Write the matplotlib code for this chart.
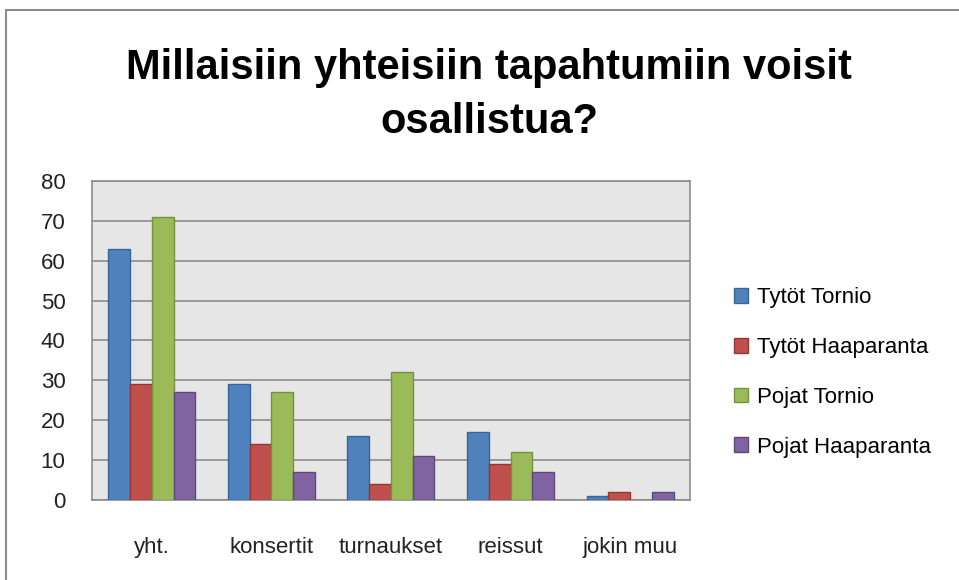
import numpy as np
import matplotlib.pyplot as plt
from matplotlib.patches import Rectangle

categories = ["yht.", "konsertit", "turnaukset", "reissut", "jokin muu"]
series_names = ["Tytöt Tornio", "Tytöt Haaparanta", "Pojat Tornio", "Pojat Haaparanta"]
tytot_tornio = [63, 29, 16, 17, 1]
tytot_haaparanta = [29, 14, 4, 9, 2]
pojat_tornio = [71, 27, 32, 12, 0]
pojat_haaparanta = [27, 7, 11, 7, 2]
yticks = [0, 10, 20, 30, 40, 50, 60, 70, 80]

values = [tytot_tornio, tytot_haaparanta, pojat_tornio, pojat_haaparanta]
colors = ["#4f81bd", "#c0504d", "#9bbb59", "#8064a2"]
edges = ["#3a6396", "#943634", "#76923c", "#5f497a"]

plt.rcParams['font.family'] = ['Liberation Sans', 'DejaVu Sans']

fig = plt.figure(figsize=(9.59, 5.8), dpi=100)
# chart frame
fig.patches.append(Rectangle((0.006, -0.05), 1.05, 1.033, transform=fig.transFigure,
                             fill=False, edgecolor="#8c8c8c", linewidth=1.5))

ax = fig.add_axes([0.0959, 0.138, 0.6236, 0.550])
ax.set_facecolor("#e6e6e6")

x = np.arange(len(categories))
w = 1 / 5.5
for i, (name, vals) in enumerate(zip(series_names, values)):
    ax.bar(x + (i - 1.5) * w, vals, width=w, color=colors[i], edgecolor=edges[i],
           linewidth=1, label=name, zorder=3)

ax.set_xlim(-0.5, len(categories) - 0.5)
ax.set_ylim(0, 80)
ax.set_yticks(yticks)
ax.set_xticks(x)
ax.set_xticklabels(categories)
ax.grid(axis="y", color="#8c8c8c", linewidth=1.2, zorder=0)
ax.set_axisbelow(True)
for s in ax.spines.values():
    s.set_color("#8c8c8c")
    s.set_linewidth(1.2)
ax.tick_params(axis="y", length=0, labelsize=16, pad=19, labelcolor="#222222")
ax.tick_params(axis="x", length=0, labelsize=16, pad=27, labelcolor="#222222")

fig.text(0.51, 0.837, "Millaisiin yhteisiin tapahtumiin voisit\nosallistua?",
         ha="center", va="center", fontsize=30, fontweight="bold", linespacing=1.45)

ax.legend(loc="center left", bbox_to_anchor=(1.04, 0.40), frameon=False, fontsize=16,
          handlelength=0.65, handleheight=0.65, labelspacing=1.3, handletextpad=0.4)

fig.savefig("out.png", dpi=100)
